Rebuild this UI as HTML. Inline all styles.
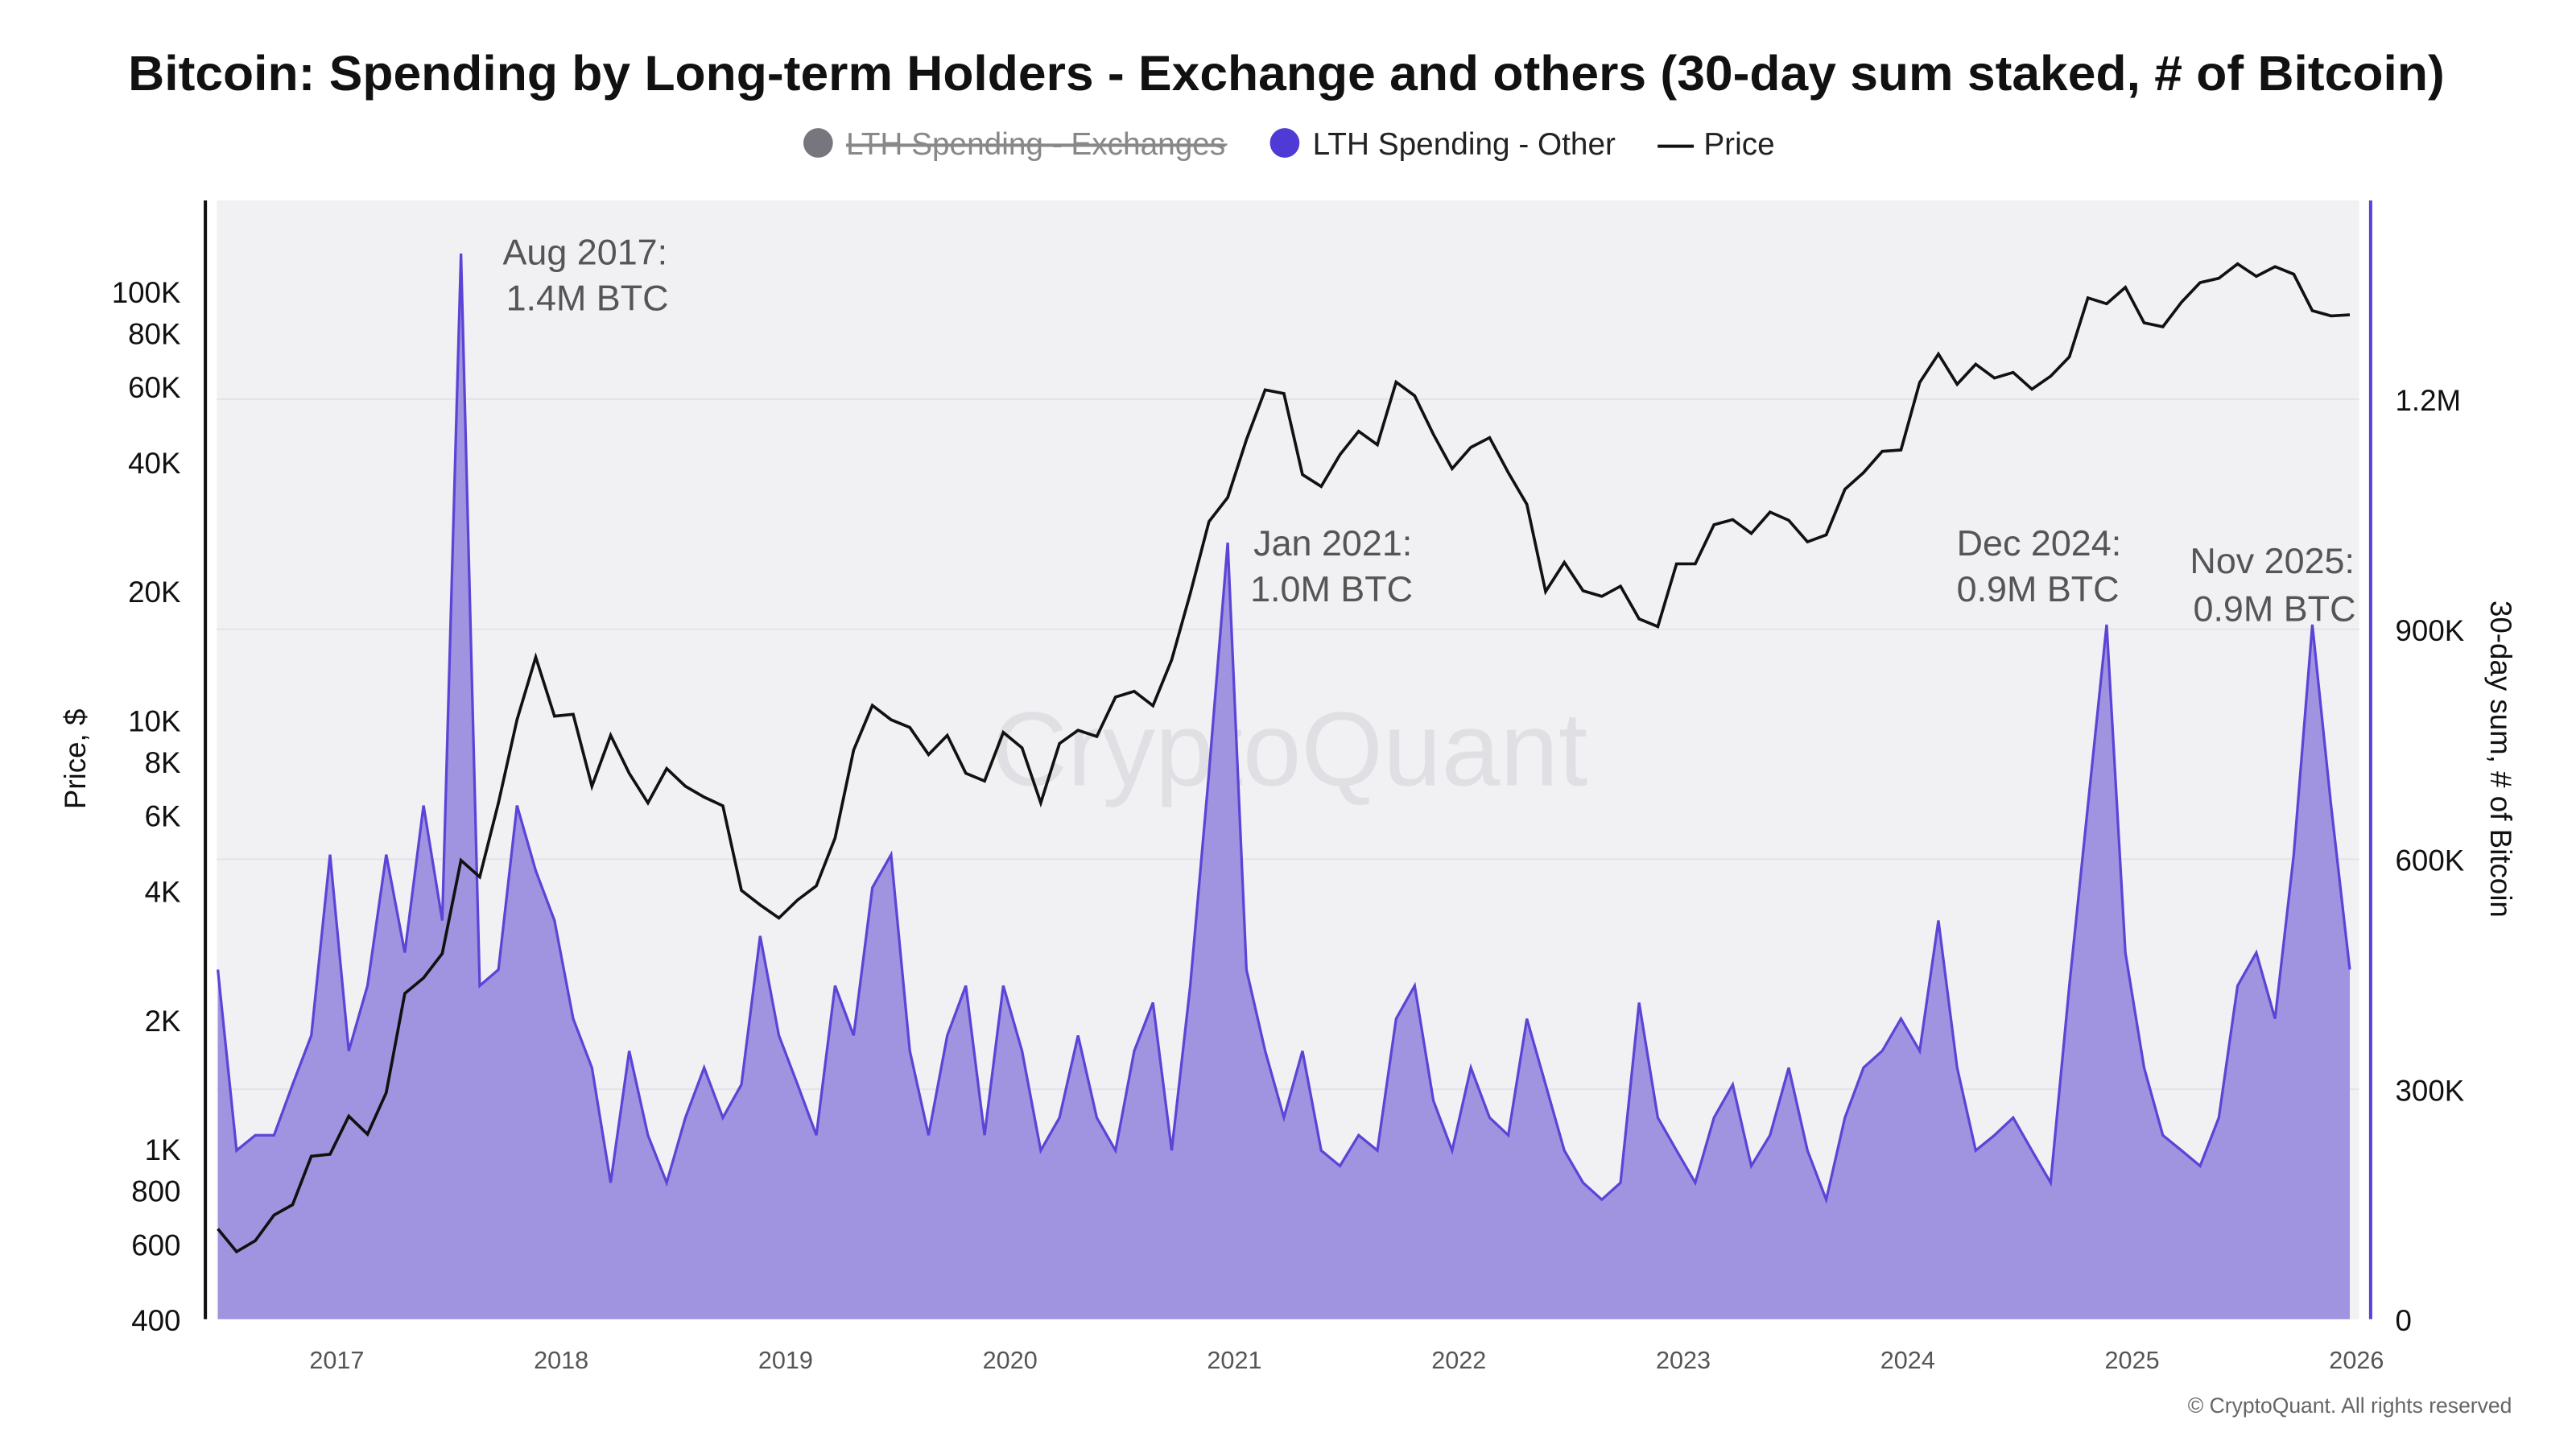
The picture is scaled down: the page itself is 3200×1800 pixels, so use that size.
<!DOCTYPE html>
<html><head><meta charset="utf-8"><style>
html,body{margin:0;padding:0;background:#fff;}
svg{display:block;font-family:"Liberation Sans",sans-serif;}
</style></head><body>
<svg id="chart" width="3200" height="1800" viewBox="0 0 1552 873" xmlns="http://www.w3.org/2000/svg">
<rect width="1552" height="873" fill="#fff"/>
<g transform="scale(0.9898)">
<text x="783" y="55" text-anchor="middle" font-size="30" font-weight="bold" fill="#111" textLength="1410" lengthAdjust="spacingAndGlyphs">Bitcoin: Spending by Long-term Holders - Exchange and others (30-day sum staked, # of Bitcoin)</text>
<g>
<g><circle cx="498" cy="87" r="9" fill="#77767e"/><text x="515" y="94" font-size="19" fill="#888" text-decoration="line-through">LTH Spending - Exchanges</text><line x1="515" y1="88" x2="747" y2="88" stroke="#888" stroke-width="1.2"/></g>
<g><circle cx="782" cy="87" r="9" fill="#4f3ad6"/><text x="799" y="94" font-size="19" fill="#222">LTH Spending - Other</text></g>
<g><line x1="1009" y1="89" x2="1031" y2="89" stroke="#111" stroke-width="2"/><text x="1037" y="94" font-size="19" fill="#222">Price</text></g>
</g>
<rect x="132" y="122" width="1304" height="681" fill="#f1f1f4"/>
<g id="grid"></g>
<text x="785" y="478" text-anchor="middle" font-size="64" fill="#dfdfe4">CryptoQuant</text>
<g id="area"></g>
<g id="price"></g>
<line x1="125" y1="122" x2="125" y2="803" stroke="#111" stroke-width="2"/>
<line x1="1443" y1="122" x2="1443" y2="803" stroke="#5b45d6" stroke-width="2"/>
<g id="axes"></g>
<text transform="translate(52,462) rotate(-90)" text-anchor="middle" font-size="18" fill="#111">Price, $</text>
<text transform="translate(1516,462) rotate(90)" text-anchor="middle" font-size="18" fill="#111">30-day sum, # of Bitcoin</text>
<g font-size="22" fill="#555">
<text x="306" y="161">Aug 2017:</text><text x="308" y="189">1.4M BTC</text>
<text x="763" y="338">Jan 2021:</text><text x="761" y="366">1.0M BTC</text>
<text x="1191" y="338">Dec 2024:</text><text x="1191" y="366">0.9M BTC</text>
<text x="1333" y="349">Nov 2025:</text><text x="1335" y="378">0.9M BTC</text>
</g>
<text x="1529" y="860" text-anchor="end" font-size="13" fill="#666">© CryptoQuant. All rights reserved</text>
</g>
</svg>
<script>
const startYear = 2016.47;
const spending = [456,220,240,240,306,370,
606,350,435,606,478,670,520,1390,435,456,670,585,
520,392,328,178,350,240,178,263,328,263,306,500,
370,306,240,435,370,563,606,350,240,370,435,240,
435,350,220,263,370,263,220,350,413,220,435,713,
1013,456,350,263,350,220,200,240,220,392,435,285,
220,328,263,240,392,306,220,178,156,178,413,263,
220,178,263,306,200,240,328,220,156,263,328,350,
392,350,520,328,220,240,263,220,178,435,670,906,
478,328,240,220,200,263,435,478,392,606,906,670,456];
const price = [650,575,610,700,740,960,
970,1190,1080,1350,2300,2500,2850,4700,4300,6400,10000,14000,
10200,10300,7000,9200,7500,6400,7700,7000,6600,6300,4000,3700,
3450,3800,4100,5300,8500,10800,10000,9600,8300,9200,7500,7200,
9350,8600,6400,8800,9450,9140,11300,11650,10780,13800,19700,29000,
33000,45000,58800,57700,37300,35000,41500,47100,43800,61300,57000,46300,
38500,43200,45500,37700,31800,19900,23300,20000,19400,20500,17200,16500,
23100,23100,28500,29300,27200,30500,29200,26000,27000,34500,37700,42300,
42600,61200,71300,60600,67500,62700,64600,59000,63300,70200,96400,93400,
102000,84300,82500,94200,104600,107100,115700,108200,114000,109500,90000,87500,88000];
const priceTicks = [400,600,800,1000,2000,4000,6000,8000,10000,20000,40000,60000,80000,100000];
const priceTickLabels = ["400","600","800","1K","2K","4K","6K","8K","10K","20K","40K","60K","80K","100K"];
const spendTicks = [0,300,600,900,1200];
const spendTickLabels = ["0","300K","600K","900K","1.2M"];
const years = [2017,2018,2019,2020,2021,2022,2023,2024,2025,2026];

const NS="http://www.w3.org/2000/svg";
const xOf = t => 205 + (t-2017)*136.6;
const yPrice = p => 803 - (Math.log10(p)-Math.log10(400))*261;
const ySpend = v => 803 - v/300*140;
function mk(tag, attrs, parent){const e=document.createElementNS(NS,tag);for(const k in attrs)e.setAttribute(k,attrs[k]);parent.appendChild(e);return e;}
const grid=document.getElementById('grid'), axes=document.getElementById('axes');
spendTicks.forEach((v,i)=>{
  if(v>0){const g=mk('line',{x1:132,x2:1436,y1:ySpend(v),y2:ySpend(v),stroke:'#e3e3e8','stroke-width':1},grid);
  
  }
  const t=mk('text',{x:1458,y:ySpend(v)+7,'font-size':18,fill:'#111'},axes);t.textContent=spendTickLabels[i];
  
  
});
priceTicks.forEach((p,i)=>{
  const t=mk('text',{x:110,y:yPrice(p)+7,'text-anchor':'end','font-size':18,fill:'#111'},axes);t.textContent=priceTickLabels[i];
  
  
});
years.forEach(y=>{
  const t=mk('text',{x:xOf(y),y:833,'text-anchor':'middle','font-size':15,fill:'#555'},axes);t.textContent=y;
  
  
});
const tx = i => Math.max(132, Math.min(1436, xOf(startYear + i/12)));
let line = spending.map((v,i)=>`${tx(i).toFixed(1)},${ySpend(v).toFixed(1)}`).join(' L');
const areaD = `M${tx(0)},803 L${line} L${tx(spending.length-1)},803 Z`;
const a=mk('path',{d:areaD,fill:'#a094e0',stroke:'none'},document.getElementById('area'));


const l=mk('path',{d:'M'+line,fill:'none',stroke:'#5b45d6','stroke-width':1.6},document.getElementById('area'));


const pd='M'+price.map((p,i)=>`${tx(i).toFixed(1)},${yPrice(p).toFixed(1)}`).join(' L');
const pl=mk('path',{d:pd,fill:'none',stroke:'#111','stroke-width':1.8},document.getElementById('price'));


</script>
</body></html>
